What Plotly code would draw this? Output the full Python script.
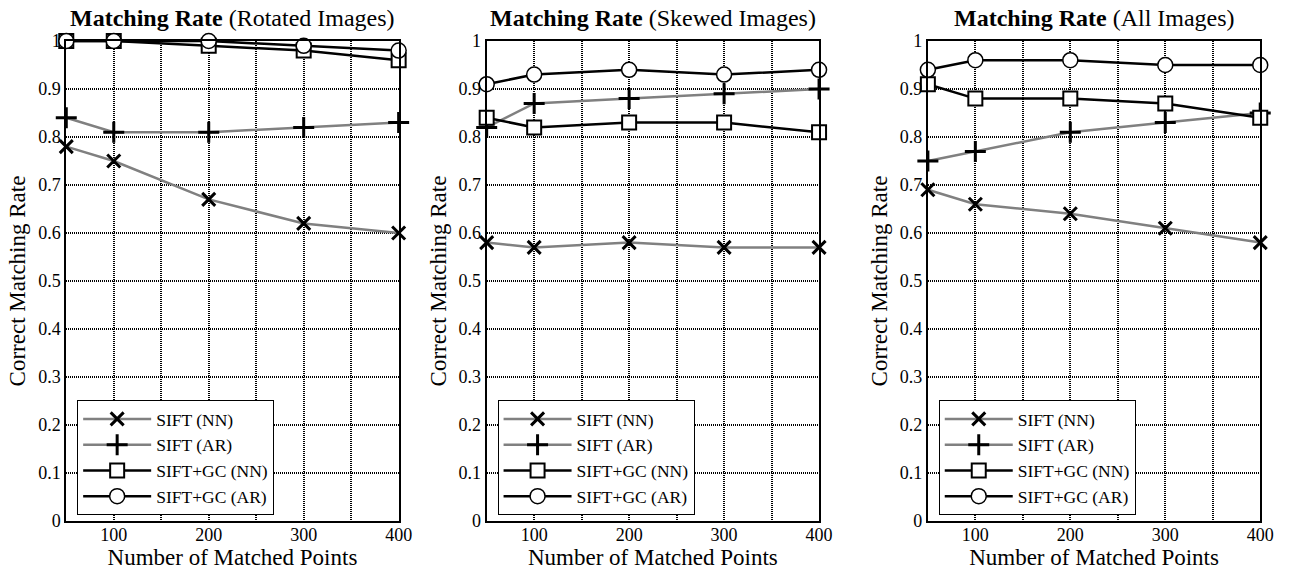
import plotly.graph_objects as go

x_points = [50, 100, 200, 300, 400]
series_names = ["SIFT (NN)", "SIFT (AR)", "SIFT+GC (NN)", "SIFT+GC (AR)"]
panel_titles = ["Rotated Images", "Skewed Images", "All Images"]

rotated_sift_nn = [0.78, 0.75, 0.67, 0.62, 0.60]
rotated_sift_ar = [0.84, 0.81, 0.81, 0.82, 0.83]
rotated_gc_nn = [1.00, 1.00, 0.99, 0.98, 0.96]
rotated_gc_ar = [1.00, 1.00, 1.00, 0.99, 0.98]

skewed_sift_nn = [0.58, 0.57, 0.58, 0.57, 0.57]
skewed_sift_ar = [0.82, 0.87, 0.88, 0.89, 0.90]
skewed_gc_nn = [0.84, 0.82, 0.83, 0.83, 0.81]
skewed_gc_ar = [0.91, 0.93, 0.94, 0.93, 0.94]

all_sift_nn = [0.69, 0.66, 0.64, 0.61, 0.58]
all_sift_ar = [0.75, 0.77, 0.81, 0.83, 0.85]
all_gc_nn = [0.91, 0.88, 0.88, 0.87, 0.84]
all_gc_ar = [0.94, 0.96, 0.96, 0.95, 0.95]

x_tickvals = [50, 100, 150, 200, 250, 300, 350, 400]
x_ticktext = ["", "100", "", "200", "", "300", "", "400"]

panels = [
    [rotated_sift_nn, rotated_sift_ar, rotated_gc_nn, rotated_gc_ar],
    [skewed_sift_nn, skewed_sift_ar, skewed_gc_nn, skewed_gc_ar],
    [all_sift_nn, all_sift_ar, all_gc_nn, all_gc_ar],
]

FONT = "Liberation Serif"
W, H = 1296, 573
ML, MR, MT, MB = 0, 0, 41, 52
domains = [(67, 403), (492, 828), (938, 1274)]

styles = [
    dict(line=dict(color="#808080", width=2.5),
         marker=dict(symbol="x-thin", size=13, color="black",
                     line=dict(color="black", width=3))),
    dict(line=dict(color="#808080", width=2.5),
         marker=dict(symbol="cross-thin", size=15, color="black",
                     line=dict(color="black", width=3))),
    dict(line=dict(color="black", width=2.5),
         marker=dict(symbol="square", size=14, color="white",
                     line=dict(color="black", width=2))),
    dict(line=dict(color="black", width=2.5),
         marker=dict(symbol="circle", size=15, color="white",
                     line=dict(color="black", width=1.5))),
]

fig = go.Figure()
plot_h = H - MT - MB

for p, data in enumerate(panels):
    ax = "" if p == 0 else str(p + 1)
    leg = "legend" if p == 0 else f"legend{p + 1}"
    for s, vals in enumerate(data):
        fig.add_trace(go.Scatter(
            x=x_points, y=vals, mode="lines+markers", name=series_names[s],
            xaxis="x" + ax, yaxis="y" + ax, legend=leg, cliponaxis=False,
            line=styles[s]["line"], marker=styles[s]["marker"],
        ))
    x0, x1 = domains[p]
    common_axis = dict(
        showline=True, linecolor="black", linewidth=2, mirror=True,
        showgrid=True, gridcolor="black", gridwidth=1.5, griddash="1px,1px",
        zeroline=False, ticks="",
        tickfont=dict(family=FONT, size=18, color="black"),
    )
    fig.layout["xaxis" + ax] = dict(
        common_axis, domain=[x0 / W, x1 / W], range=[50, 400],
        tickvals=x_tickvals, ticktext=x_ticktext, anchor="y" + ax,
        ticklabelstandoff=-4,
        title=dict(text="Number of Matched Points", standoff=0,
                   font=dict(family=FONT, size=23, color="black")),
    )
    fig.layout["yaxis" + ax] = dict(
        common_axis, domain=[0, 1], range=[0, 1], dtick=0.1, anchor="x" + ax,
        title=dict(text="Correct Matching Rate", standoff=6,
                   font=dict(family=FONT, size=23, color="black")),
    )
    fig.layout[leg] = dict(
        x=(x0 + 11) / W, y=(H - MB - 400) / plot_h, xanchor="left", yanchor="top",
        bgcolor="white", bordercolor="black", borderwidth=1,
        font=dict(family=FONT, size=17.5, color="black"), itemwidth=68,
        tracegroupgap=0,
    )
    fig.add_annotation(
        x=(x0 + x1) / 2 / W, y=1, xref="paper", yref="paper",
        xanchor="center", yanchor="bottom", yshift=8, showarrow=False,
        text=f"<b>Matching Rate</b> ({panel_titles[p]})",
        font=dict(family=FONT, size=24, color="black"),
    )

fig.update_layout(
    width=W, height=H, margin=dict(l=ML, r=MR, t=MT, b=MB),
    paper_bgcolor="white", plot_bgcolor="white", showlegend=True,
    font=dict(family=FONT, color="black"),
)

fig.write_html("out.html", config={"displayModeBar": False},
               post_script="document.body.style.margin='0px';")
